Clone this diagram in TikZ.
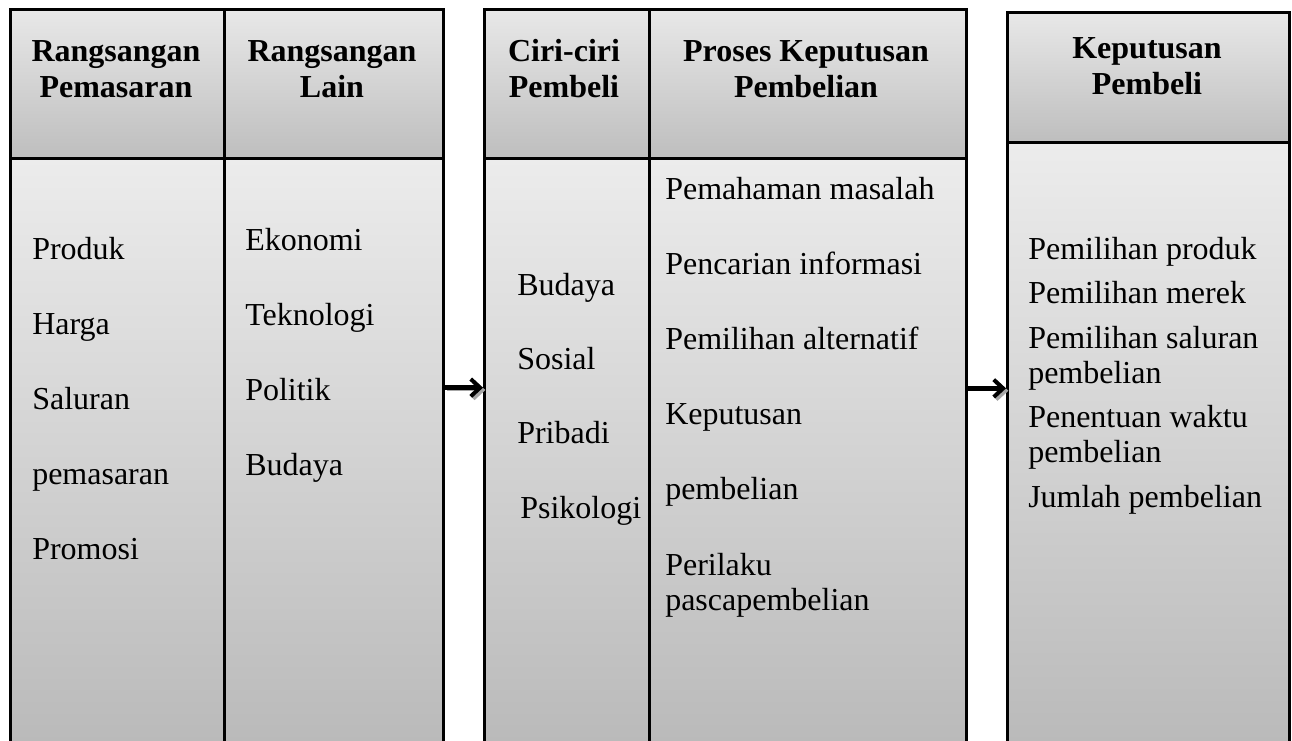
\documentclass[tikz,border=0pt]{standalone}
\usepackage{fontspec}
\setmainfont{Liberation Serif}
\usetikzlibrary{positioning,calc,shadows,arrows.meta}
\newdimen\px \px=0.75pt
\definecolor{ink}    {HTML}{000000}
\definecolor{headtop}{HTML}{E8E8E8}
\definecolor{headbot}{HTML}{BEBEBE}
\definecolor{bodytop}{HTML}{ECECEC}
\definecolor{bodybot}{HTML}{BABABA}
\tikzset{
  >=stealth,
  % --- cells
  cell/.style = {draw=ink, line width=2pt, anchor=north west, inner sep=0pt,
                 general shadow={fill=black!40, shadow xshift=1.5pt, shadow yshift=-1.5pt}},
  head/.style = {cell, top color=headtop, bottom color=headbot},
  body/.style = {cell, top color=bodytop, bottom color=bodybot},
  % --- text
  hd/.style   = {font=\fontsize{24}{27}\selectfont\bfseries, align=center, inner sep=0pt},
  it/.style   = {font=\fontsize{24}{26}\selectfont, anchor=base west, inner sep=0pt, align=left},
  % --- edges
  e/.style    = {-{Straight Barb[length=7pt,width=13pt,line width=3pt]}, line width=3.5pt, draw=ink,
                 preaction={draw=black!35, transform canvas={shift={(1.8pt,-1.8pt)}}}},
}
\begin{document}
\begin{tikzpicture}[x=0.75pt,y=-0.75pt]
  \useasboundingbox (0,0) rectangle (1292,740);
  % --- group 1
  \node[head, minimum width=214\px, minimum height=149\px] (h1) at (9,8) {};
  \node[head, minimum width=219\px, minimum height=149\px] (h2) at (223,8) {};
  \node[body, minimum width=214\px, minimum height=584\px] (b1) at (9,157) {};
  \node[body, minimum width=219\px, minimum height=584\px] (b2) at (223,157) {};
  % --- group 2
  \node[head, minimum width=165\px, minimum height=149\px] (h3) at (483,8) {};
  \node[head, minimum width=317\px, minimum height=149\px] (h4) at (648,8) {};
  \node[body, minimum width=165\px, minimum height=584\px] (b3) at (483,157) {};
  \node[body, minimum width=317\px, minimum height=584\px] (b4) at (648,157) {};
  % --- group 3
  \node[head, minimum width=282\px, minimum height=130\px] (h5) at (1006,11) {};
  \node[body, minimum width=282\px, minimum height=600\px] (b5) at (1006,141) {};

  % headers
  \node[hd] (t1) at (116,69) {Rangsangan\\Pemasaran};
  \node[hd] (t2) at (332,69) {Rangsangan\\Lain};
  \node[hd] (t3) at (564,69) {Ciri-ciri\\Pembeli};
  \node[hd] (t4) at (806,69) {Proses Keputusan\\Pembelian};
  \node[hd] (t5) at (1147,66) {Keputusan\\Pembeli};

  % rangsangan pemasaran
  \node[it] (p1) at (32,259) {Produk};
  \node[it] (p2) at (32,334) {Harga};
  \node[it] (p3) at (32,409) {Saluran};
  \node[it] (p4) at (32,484) {pemasaran};
  \node[it] (p5) at (32,559) {Promosi};
  % rangsangan lain
  \node[it] (r1) at (245,250) {Ekonomi};
  \node[it] (r2) at (245,325) {Teknologi};
  \node[it] (r3) at (245,400) {Politik};
  \node[it] (r4) at (245,475) {Budaya};
  % ciri-ciri pembeli
  \node[it] (c1) at (517,295) {Budaya};
  \node[it] (c2) at (517,369) {Sosial};
  \node[it] (c3) at (517,443) {Pribadi};
  \node[it] (c4) at (520,518) {Psikologi};
  % proses keputusan
  \node[it] (k1) at (665,199) {Pemahaman masalah};
  \node[it] (k2) at (665,274) {Pencarian informasi};
  \node[it] (k3) at (665,349) {Pemilihan alternatif};
  \node[it] (k4) at (665,424) {Keputusan};
  \node[it] (k5) at (665,499) {pembelian};
  \node[it] (k6) at (665,610) {Perilaku\\pascapembelian};
  % keputusan pembeli
  \node[it] (d1) at (1028,259) {Pemilihan produk};
  \node[it] (d2) at (1028,303) {Pemilihan merek};
  \node[it] (d3) at (1028,383) {Pemilihan saluran\\pembelian};
  \node[it] (d4) at (1028,462) {Penentuan waktu\\pembelian};
  \node[it] (d5) at (1028,507) {Jumlah pembelian};

  \draw[e] ([yshift=47pt]b2.east) -- ([yshift=47pt]b2.east -| b3.west);
  \draw[e] ([yshift=46.5pt]b4.east) -- ([yshift=46.5pt]b4.east -| b5.west);
\end{tikzpicture}
\end{document}
